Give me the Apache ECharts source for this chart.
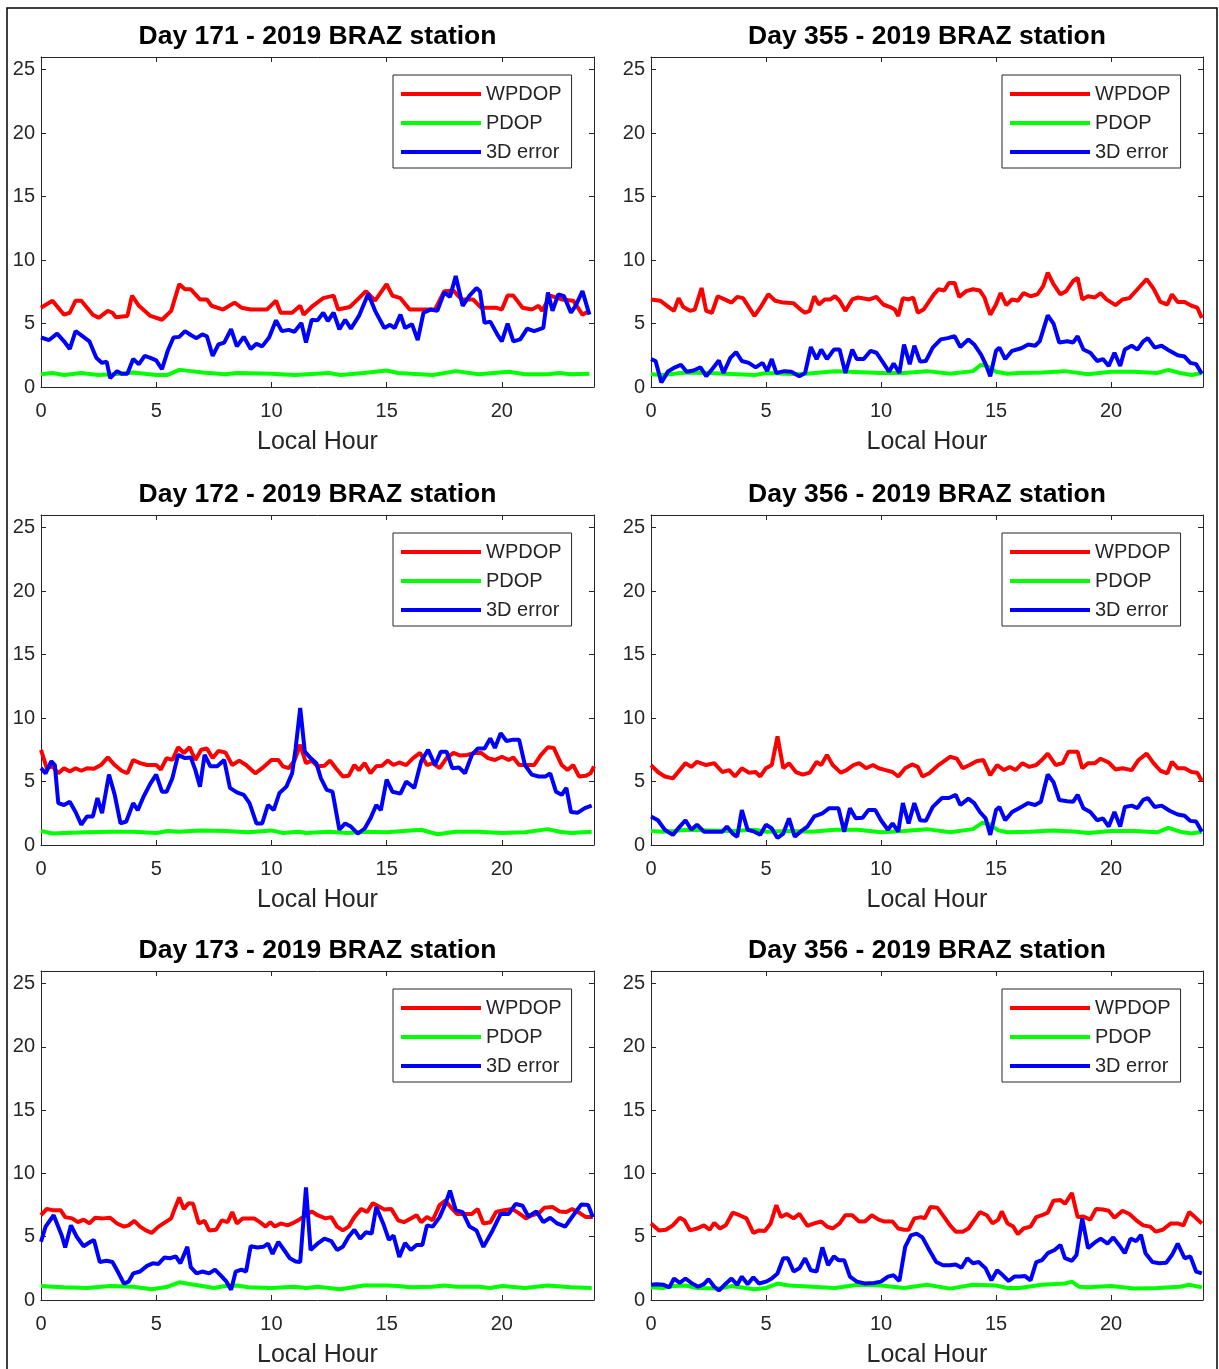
<!DOCTYPE html>
<html>
<head>
<meta charset="utf-8">
<title>BRAZ station WPDOP / PDOP / 3D error</title>
<script src="https://cdn.jsdelivr.net/npm/echarts@6/dist/echarts.min.js"></script>
<style>
  html, body { margin: 0; padding: 0; background: #fff; }
  #chart { width: 1219px; height: 1369px; }
</style>
</head>
<body>
<div id="chart"></div>
<script>
// ---- Panel titles (row by row, left to right) ----
const panelTitles = [
  'Day 171 - 2019 BRAZ station', 'Day 355 - 2019 BRAZ station',
  'Day 172 - 2019 BRAZ station', 'Day 356 - 2019 BRAZ station',
  'Day 173 - 2019 BRAZ station', 'Day 356 - 2019 BRAZ station'
];
const seriesNames = ['WPDOP', 'PDOP', '3D error'];
const xTicks = [0, 5, 10, 15, 20];
const yTicks = [0, 5, 10, 15, 20, 25];

// ---- Day 171 : [local hour, value] ----
const wpdop171 = [[0,6.25],[0.5,6.8],[1,5.7],[1.25,5.85],[1.5,6.8],[1.75,6.8],[2.25,5.7],[2.5,5.45],[2.9,6],[3.1,5.85],[3.25,5.5],[3.75,5.6],[3.95,7.2],[4.25,6.4],[4.75,5.6],[5.25,5.3],[5.65,6],[6,8.1],[6.25,7.7],[6.5,7.7],[6.9,6.9],[7.2,6.9],[7.4,6.4],[7.9,6.1],[8.4,6.65],[8.7,6.25],[9.1,6.1],[9.8,6.1],[10.2,6.8],[10.4,5.85],[10.9,5.85],[11.25,6.4],[11.4,5.7],[11.8,6.4],[12.25,7],[12.7,7.2],[12.9,6.1],[13.4,6.3],[13.8,7],[14.1,7.55],[14.5,6.8],[15,8.1],[15.25,7.2],[15.6,7],[16,6.1],[16.6,6.1],[17.1,6.1],[17.5,7.55],[17.9,7.6],[18.25,6.9],[18.75,6.9],[19.1,6.25],[19.75,6.25],[20,6.1],[20.25,7.2],[20.5,7.2],[20.9,6.25],[21.3,6.1],[21.6,6.4],[21.75,6],[22.1,7.2],[22.6,6.9],[23.1,6.8],[23.5,5.7],[23.8,6]];
const pdop171 = [[0,1],[0.5,1.1],[1,0.95],[1.75,1.1],[2.5,0.95],[3.5,1.05],[4,1.15],[5,0.95],[5.5,0.95],[6,1.35],[6.5,1.25],[7,1.15],[8,1],[8.5,1.1],[10,1.05],[11,0.95],[12.5,1.1],[13,0.95],[14,1.1],[15,1.3],[15.5,1.1],[17,0.95],[18,1.25],[19,1],[20.3,1.2],[21,1],[22,1],[22.5,1.1],[23,1],[23.8,1.05]];
const err171 = [[0,3.9],[0.35,3.7],[0.7,4.2],[1,3.6],[1.25,3],[1.5,4.4],[1.8,4],[2.1,3.6],[2.4,2.3],[2.65,1.9],[2.85,2],[3,0.7],[3.3,1.25],[3.5,1.05],[3.75,1.05],[4,2.2],[4.25,1.8],[4.5,2.45],[4.75,2.3],[5,2.1],[5.25,1.4],[5.5,2.85],[5.75,3.9],[6,3.95],[6.25,4.4],[6.5,4.1],[6.75,3.85],[7,4.15],[7.2,4],[7.45,2.45],[7.7,3.35],[7.95,3.5],[8.25,4.55],[8.5,3.2],[8.8,3.95],[9.1,3],[9.35,3.4],[9.6,3.2],[9.9,3.9],[10.2,5.25],[10.45,4.4],[10.75,4.5],[11,4.35],[11.3,5.05],[11.5,3.5],[11.75,5.3],[12,5.25],[12.25,5.85],[12.45,5.2],[12.7,5.85],[12.95,4.55],[13.2,5.3],[13.45,4.6],[13.8,5.6],[14.2,7.35],[14.5,6],[14.9,4.65],[15.15,4.9],[15.35,4.65],[15.6,5.7],[15.8,4.65],[16.1,4.95],[16.35,3.7],[16.6,5.85],[16.9,6.1],[17.2,6],[17.5,7.45],[17.75,7.1],[18,8.75],[18.3,6.4],[18.6,7.2],[18.9,7.8],[19.05,7.55],[19.25,5.05],[19.5,5.15],[19.8,4.15],[20,3.6],[20.25,5],[20.5,3.6],[20.8,3.75],[21.1,4.6],[21.4,4.4],[21.8,4.65],[22,7.45],[22.2,6],[22.45,7.3],[22.7,7.15],[23,5.85],[23.2,6.4],[23.5,7.55],[23.8,5.7]];

// ---- Day 355 ----
const wpdop355 = [[0,6.9],[0.4,6.8],[0.8,6.25],[1,6],[1.2,7],[1.4,6.3],[1.7,6],[1.9,6.1],[2.2,7.8],[2.4,6],[2.65,5.85],[2.9,7.15],[3.2,6.9],[3.5,6.65],[3.75,7.1],[4,7],[4.5,5.6],[4.75,6.25],[5.1,7.3],[5.4,6.8],[5.75,6.65],[6.2,6.6],[6.5,6.1],[6.7,5.85],[6.9,6],[7.1,7.15],[7.3,6.5],[7.55,6.9],[7.8,6.9],[8,7.15],[8.2,6.8],[8.45,6],[8.75,6.9],[9,7.05],[9.5,6.9],[9.8,7.1],[10.1,6.5],[10.4,6.3],[10.6,6.1],[10.75,5.6],[10.95,7],[11.2,6.9],[11.4,7.05],[11.6,5.85],[11.85,6.1],[12.3,7.3],[12.5,7.7],[12.75,7.6],[12.95,8.2],[13.2,8.2],[13.4,7.1],[13.7,7.55],[14,7.7],[14.3,7.6],[14.5,7.05],[14.75,5.7],[15,6.5],[15.2,7.4],[15.45,6.45],[15.7,6.9],[15.95,6.8],[16.2,7.4],[16.5,7.15],[16.8,7.3],[17.05,7.95],[17.25,9],[17.5,8.1],[17.8,7.3],[18.05,7.55],[18.35,8.35],[18.55,8.6],[18.75,6.9],[19,7.15],[19.3,7.05],[19.55,7.4],[19.8,6.9],[20.2,6.45],[20.5,6.9],[20.8,7],[21.2,7.8],[21.55,8.5],[21.85,7.75],[22.15,6.7],[22.45,6.5],[22.65,7.3],[22.9,6.7],[23.2,6.7],[23.5,6.4],[23.75,6.25],[23.95,5.45]];
const pdop355 = [[0,1],[0.5,0.95],[1.5,1.15],[2.5,1.1],[4.5,0.95],[5,1.1],[6.5,1],[8,1.25],[10,1.1],[11,1.1],[12,1.25],[13,1.05],[14,1.25],[14.35,1.75],[14.6,1.65],[15,1.2],[15.5,1.05],[16,1.1],[17,1.15],[18,1.25],[19,1],[20,1.2],[21,1.2],[22,1.1],[22.5,1.35],[23,1.1],[23.5,0.95],[23.95,1.1]];
const err355 = [[0,2.2],[0.2,2.05],[0.45,0.35],[0.75,1.25],[1.05,1.55],[1.3,1.75],[1.55,1.2],[1.85,1.3],[2.15,1.55],[2.4,0.85],[2.7,1.5],[2.95,2.1],[3.15,1.1],[3.45,2.3],[3.7,2.75],[3.95,2.05],[4.25,1.9],[4.55,1.55],[4.85,1.9],[5.05,1.25],[5.25,2.2],[5.45,1.1],[5.8,1.25],[6.1,1.2],[6.45,0.85],[6.7,1.1],[6.95,3.15],[7.2,2.2],[7.4,2.95],[7.65,2.2],[7.95,2.95],[8.2,2.95],[8.45,1.1],[8.75,2.95],[8.95,2.2],[9.25,2.2],[9.55,2.85],[9.8,2.7],[10.1,1.9],[10.35,1.2],[10.55,1.85],[10.8,1.1],[11,3.35],[11.25,1.8],[11.45,3.25],[11.7,2],[11.95,2.05],[12.25,3.1],[12.6,3.75],[12.9,3.85],[13.2,4],[13.45,3.15],[13.8,3.75],[14.05,3.35],[14.35,2.55],[14.55,1.8],[14.75,0.85],[15,2.85],[15.15,3.1],[15.4,2.2],[15.7,2.85],[16.1,3.05],[16.4,3.35],[16.7,3.25],[16.9,3.6],[17.25,5.65],[17.5,5],[17.75,3.5],[18.1,3.6],[18.35,3.5],[18.55,4],[18.8,2.95],[19.1,2.7],[19.4,2.05],[19.65,2.2],[19.9,1.65],[20.15,2.7],[20.4,1.65],[20.6,2.95],[20.9,3.25],[21.15,2.95],[21.4,3.6],[21.6,3.85],[21.9,3.1],[22.2,3.25],[22.55,2.85],[22.9,2.5],[23.2,2.4],[23.45,1.9],[23.7,1.8],[23.95,1.05]];

// ---- Day 172 ----
const wpdop172 = [[0,7.5],[0.25,6.05],[0.5,6.2],[0.75,5.65],[1,6.05],[1.25,5.8],[1.5,6.05],[1.75,5.85],[2,6.05],[2.3,6],[2.6,6.3],[2.9,6.9],[3.2,6.3],[3.5,5.85],[3.75,5.65],[4,6.7],[4.3,6.45],[4.6,6.3],[5,6.3],[5.2,5.95],[5.45,6.85],[5.7,6.7],[5.95,7.7],[6.2,7.25],[6.45,7.7],[6.7,6.7],[6.95,7.5],[7.2,7.6],[7.45,6.85],[7.7,7.4],[8,7.3],[8.3,6.3],[8.6,6.65],[8.9,6.3],[9.3,5.65],[9.6,6.05],[10,6.7],[10.3,6.7],[10.5,6.2],[10.75,6.05],[11,6.65],[11.25,7.9],[11.5,6.45],[11.75,6.65],[12,6.2],[12.3,6.25],[12.55,6.65],[12.8,6.05],[13.1,5.4],[13.35,5.45],[13.6,6.3],[13.8,5.9],[14.05,6.45],[14.3,5.65],[14.55,6.2],[14.8,6.25],[15.05,6.65],[15.3,6.3],[15.55,6.5],[15.85,6.3],[16.15,6.85],[16.45,7.25],[16.75,6.3],[17,6.45],[17.3,6.05],[17.6,6.85],[17.9,7.25],[18.2,7.05],[18.5,7.1],[18.8,7.25],[19.1,7.25],[19.4,6.85],[19.7,6.7],[20,6.95],[20.3,6.7],[20.5,6.9],[20.75,6.3],[21.1,6.3],[21.4,6.3],[21.7,7.1],[22,7.7],[22.25,7.65],[22.6,6.3],[22.85,5.9],[23.1,6.3],[23.35,5.4],[23.65,5.45],[23.85,5.65],[24,6.2]];
const pdop172 = [[0,1.1],[0.5,0.9],[1,0.95],[2,1],[3,1.05],[4,1.05],[5,0.95],[5.5,1.1],[6,1.05],[6.5,1.1],[7,1.15],[8,1.1],[9,1],[10,1.15],[10.5,0.95],[11.2,1.05],[11.5,0.95],[12.5,1.05],[13.3,0.95],[14,1.05],[15,1],[16.5,1.2],[17.2,0.85],[18,1.05],[19,1.05],[20,0.95],[21,1],[22,1.25],[22.5,1.05],[23,0.95],[23.9,1.05]];
const err172 = [[0,6.05],[0.2,5.65],[0.45,6.6],[0.6,6.3],[0.75,3.3],[1,3.15],[1.25,3.4],[1.5,2.6],[1.75,1.6],[2,2.25],[2.25,2.25],[2.45,3.7],[2.65,2.5],[2.95,5.55],[3.2,3.95],[3.45,1.7],[3.7,1.85],[4,3.3],[4.2,2.75],[4.45,3.8],[4.75,4.85],[5,5.55],[5.25,4.2],[5.45,4.2],[5.7,5.25],[5.95,7.1],[6.25,6.85],[6.5,6.9],[6.7,5.9],[6.9,4.6],[7.1,7.1],[7.35,6.2],[7.65,6.2],[7.95,6.7],[8.2,4.5],[8.5,4.15],[8.8,3.95],[9.05,3.3],[9.35,1.7],[9.6,1.7],[9.85,3.15],[10.1,2.75],[10.35,4.1],[10.65,4.6],[10.9,5.65],[11.05,7.6],[11.25,10.8],[11.45,7.35],[11.7,6.85],[11.95,6.45],[12.15,5.25],[12.4,4.35],[12.65,4.2],[12.95,1.2],[13.2,1.7],[13.45,1.45],[13.75,0.9],[14.05,1.3],[14.3,2.1],[14.55,3.15],[14.75,2.75],[15,5.15],[15.25,4.2],[15.6,4.05],[15.85,5],[16.2,4.5],[16.5,6.6],[16.8,7.5],[17.1,6.3],[17.35,7.35],[17.6,7.35],[17.85,6.05],[18.15,6.1],[18.4,5.65],[18.7,7.1],[18.95,7.6],[19.25,7.6],[19.5,8.4],[19.7,7.65],[19.95,8.8],[20.2,8.2],[20.5,8.3],[20.75,8.3],[21,6.3],[21.3,5.55],[21.6,5.4],[21.9,5.4],[22.1,5.65],[22.35,4.2],[22.6,3.95],[22.8,4.5],[23,2.6],[23.3,2.55],[23.6,2.9],[23.9,3.1]];

// ---- Day 356 ----
const wpdop356 = [[0,6.3],[0.3,5.75],[0.6,5.4],[0.95,5.25],[1.25,5.9],[1.5,6.45],[1.75,6.15],[2,6.55],[2.4,6.3],[2.75,6.45],[3.1,5.75],[3.4,5.9],[3.65,5.4],[3.95,6.05],[4.25,5.7],[4.55,5.75],[4.75,5.4],[5,6.05],[5.25,6.3],[5.5,8.55],[5.75,6.05],[6,6.45],[6.3,5.75],[6.6,5.55],[6.9,5.7],[7.2,6.55],[7.4,6.3],[7.65,7.1],[7.9,6.3],[8.25,5.7],[8.5,5.9],[8.8,6.3],[9.05,6.45],[9.35,6.05],[9.65,6.3],[9.9,6.05],[10.2,5.9],[10.5,5.75],[10.75,5.4],[11.05,6.05],[11.35,6.35],[11.6,6.15],[11.8,5.4],[12.1,5.65],[12.5,6.3],[12.7,6.55],[13,6.95],[13.3,6.8],[13.55,6.05],[13.85,6.3],[14.15,6.6],[14.45,6.7],[14.75,5.5],[15.05,6.3],[15.35,5.9],[15.6,6.15],[15.85,5.9],[16.15,6.45],[16.45,6.15],[16.75,6.3],[17.05,6.8],[17.25,7.2],[17.6,6.3],[17.9,6.45],[18.15,7.35],[18.55,7.35],[18.75,6.05],[19,6.45],[19.3,6.45],[19.55,6.8],[19.9,6.5],[20.2,5.95],[20.5,6.05],[20.9,5.9],[21.2,6.7],[21.55,7.2],[21.85,6.45],[22.15,5.85],[22.45,5.65],[22.65,6.55],[22.9,6.05],[23.2,6.05],[23.5,5.75],[23.75,5.7],[23.95,5.05]];
const pdop356 = [[0,1.1],[0.5,1.05],[1,1.1],[1.5,1.2],[2.5,1.15],[3.5,1.1],[4.5,1.2],[5,1.05],[6,1.1],[7,1.05],[8,1.2],[9,1.2],[10,1],[11,1.1],[12,1.25],[13,1],[14,1.25],[14.4,1.75],[14.7,1.65],[15.1,1.15],[15.5,1],[16.5,1.05],[17.5,1.15],[18.5,1.05],[19,0.95],[20,1.1],[21,1.1],[22,1],[22.5,1.35],[23,1.05],[23.5,0.9],[23.95,1.05]];
const err356 = [[0,2.25],[0.3,1.95],[0.6,1.2],[0.95,0.8],[1.25,1.45],[1.5,1.95],[1.75,1.2],[2,1.6],[2.3,1.05],[2.7,1.05],[3.1,1.05],[3.3,1.45],[3.55,0.9],[3.75,0.65],[3.95,2.75],[4.2,1.2],[4.5,1.05],[4.75,0.8],[5,1.6],[5.25,1.3],[5.5,0.55],[5.75,0.9],[6,2.1],[6.25,0.65],[6.5,1.05],[6.8,1.45],[7.1,2.25],[7.45,2.5],[7.75,2.9],[8.15,2.9],[8.4,1.05],[8.65,2.9],[8.9,2.1],[9.2,2.15],[9.45,2.75],[9.75,2.75],[10,1.95],[10.3,1.2],[10.5,1.7],[10.75,1.05],[10.95,3.3],[11.2,1.7],[11.45,3.3],[11.7,1.95],[11.95,1.9],[12.25,3],[12.65,3.7],[12.95,3.7],[13.25,3.95],[13.45,3.15],[13.8,3.65],[14.05,3.3],[14.3,2.6],[14.55,2.1],[14.75,0.8],[15,2.75],[15.15,3],[15.4,1.95],[15.7,2.6],[16.1,3],[16.4,3.3],[16.7,3.15],[16.95,3.4],[17.25,5.55],[17.5,4.95],[17.75,3.55],[18.1,3.45],[18.35,3.4],[18.55,3.95],[18.8,2.9],[19.1,2.6],[19.4,1.95],[19.65,2.1],[19.9,1.45],[20.15,2.6],[20.4,1.45],[20.6,3],[20.9,3.1],[21.15,2.9],[21.4,3.55],[21.6,3.7],[21.9,3],[22.2,3.1],[22.55,2.7],[22.9,2.4],[23.2,2.3],[23.45,1.9],[23.7,1.85],[23.95,1.05]];

// ---- Day 173 ----
const wpdop173 = [[0,6.7],[0.25,7.2],[0.5,7.1],[0.85,7.1],[1.05,6.55],[1.35,6.45],[1.6,6.15],[1.85,6.35],[2.1,6.05],[2.35,6.5],[2.7,6.45],[3,6.5],[3.3,6.05],[3.6,5.8],[3.8,5.9],[4.05,6.25],[4.3,5.8],[4.55,5.5],[4.8,5.3],[5.1,5.8],[5.4,6.15],[5.65,6.45],[5.8,7.2],[6,8.1],[6.2,7.2],[6.4,7.65],[6.6,7.6],[6.85,6.05],[7.1,6.25],[7.3,5.5],[7.6,5.55],[7.85,6.3],[8.1,6.15],[8.3,6.95],[8.5,6.05],[8.75,6.45],[9,6.45],[9.25,6.45],[9.5,6.15],[9.75,5.8],[9.95,6.15],[10.15,5.8],[10.4,6.05],[10.7,5.9],[10.9,6.05],[11.2,6.35],[11.5,6.7],[11.75,7],[12,6.7],[12.35,6.45],[12.6,6.55],[12.85,5.8],[13.1,5.5],[13.35,5.8],[13.6,6.55],[13.9,7.2],[14.15,6.95],[14.4,7.65],[14.65,7.4],[14.9,7.15],[15.2,7.2],[15.5,6.3],[15.75,6.15],[16.05,6.45],[16.3,6.7],[16.5,6.15],[16.75,6.55],[17,6.3],[17.3,7.5],[17.55,7.85],[17.8,7.3],[18.05,6.8],[18.4,6.8],[18.7,6.8],[18.95,7.2],[19.2,6.05],[19.5,6.15],[19.75,6.95],[20.1,7.1],[20.45,7.2],[20.75,6.85],[21.05,6.45],[21.3,6.7],[21.6,6.85],[21.85,7.3],[22.2,7.35],[22.5,7],[22.8,6.95],[23.05,7.2],[23.4,6.85],[23.65,6.55],[23.95,6.55]];
const pdop173 = [[0,1.1],[0.5,1.05],[1,1],[2,0.95],[3,1.1],[4,1.05],[4.8,0.85],[5.5,1.05],[6,1.4],[6.5,1.25],[7,1.1],[7.5,0.95],[8,1.1],[8.5,1.15],[9,1],[10,0.95],[11,1.05],[11.5,0.95],[12,1.05],[13,0.85],[14,1.15],[15,1.15],[15.5,1.1],[16,1],[17,1.05],[17.5,1.15],[18,1.05],[19,1.05],[19.5,0.95],[20,1.1],[21,0.95],[22,1.15],[23,1],[23.9,0.95]];
const err173 = [[0,4.6],[0.2,5.8],[0.55,6.7],[0.9,5.1],[1.05,4.15],[1.3,5.9],[1.55,5],[1.85,4.25],[2.15,4.6],[2.3,4.75],[2.55,3],[2.85,3.1],[3.1,3],[3.3,2.35],[3.6,1.3],[3.8,1.45],[4,2.1],[4.3,2.25],[4.6,2.7],[4.85,2.9],[5.1,2.85],[5.35,3.35],[5.6,3.3],[5.85,3.45],[6.05,2.9],[6.35,4.2],[6.5,2.6],[6.75,2.1],[7,2.25],[7.3,2.1],[7.55,2.4],[7.8,1.95],[8.05,1.45],[8.25,0.8],[8.45,2.25],[8.7,2.4],[8.9,2.25],[9.1,4.25],[9.4,4.15],[9.65,4.2],[9.85,4.45],[10.05,3.65],[10.3,4.6],[10.55,3.95],[10.8,3.3],[11.05,3.05],[11.25,3],[11.5,8.9],[11.7,3.95],[12,4.45],[12.3,4.85],[12.6,4.65],[12.85,3.95],[13.1,4.2],[13.35,5],[13.6,5.55],[13.85,4.85],[14.1,5.35],[14.35,5.25],[14.55,7.35],[14.85,6.05],[15.1,4.75],[15.3,5.1],[15.55,3.4],[15.8,4.5],[16.05,3.95],[16.3,4.35],[16.55,4.35],[16.75,5.9],[17,5.8],[17.3,6.55],[17.55,7.6],[17.75,8.65],[18,7.1],[18.3,6.95],[18.6,5.8],[18.9,5.5],[19.2,4.2],[19.6,5.5],[19.95,6.8],[20.3,6.8],[20.6,7.6],[20.9,7.45],[21.15,6.6],[21.5,7],[21.8,6.15],[22.1,6.5],[22.4,6.05],[22.75,5.8],[23.1,6.7],[23.45,7.55],[23.75,7.5],[23.95,6.55]];

// ---- Day 356 (second panel) ----
const wpdop356b = [[0,6.05],[0.35,5.5],[0.65,5.55],[0.95,5.9],[1.25,6.5],[1.45,6.3],[1.7,5.5],[2,5.65],[2.3,5.9],[2.55,5.55],[2.75,6.1],[3,5.65],[3.25,5.9],[3.55,6.9],[3.85,6.7],[4.15,6.45],[4.45,5.3],[4.7,5.5],[4.95,5.45],[5.2,6.05],[5.45,7.5],[5.65,6.55],[5.9,6.8],[6.2,6.45],[6.45,6.8],[6.8,5.85],[7.1,6.05],[7.4,6.2],[7.65,5.8],[7.9,5.65],[8.2,6.05],[8.45,6.7],[8.75,6.7],[9.05,6.2],[9.3,6.2],[9.6,6.7],[9.9,6.35],[10.15,6.2],[10.5,6.2],[10.75,5.65],[11,5.55],[11.2,5.55],[11.45,6.45],[11.75,6.55],[11.9,6.45],[12.15,7.35],[12.45,7.3],[12.75,6.55],[13,5.9],[13.25,5.4],[13.55,5.4],[13.8,5.65],[14.05,6.3],[14.3,6.95],[14.6,6.7],[14.85,6.05],[15.1,6.35],[15.25,7],[15.5,6.05],[15.75,5.8],[15.95,5.2],[16.2,5.65],[16.5,5.8],[16.75,6.55],[17,6.7],[17.25,6.9],[17.5,7.85],[17.8,7.9],[18,7.6],[18.3,8.45],[18.55,6.55],[18.8,6.6],[19.1,6.35],[19.35,7.2],[19.65,7.15],[19.9,7.05],[20.15,6.5],[20.5,7.05],[20.8,6.8],[21.1,6.3],[21.4,5.9],[21.7,5.8],[21.95,5.4],[22.25,5.55],[22.6,6.05],[22.9,6.05],[23.15,5.9],[23.4,6.95],[23.65,6.55],[23.95,6.05]];
const pdop356b = [[0,1],[0.5,0.95],[1,1.1],[1.5,1.15],[2,0.95],[3,0.9],[3.5,1.1],[4.5,0.85],[5,0.95],[5.5,1.3],[6,1.15],[7,1.05],[8,0.95],[9,1.2],[10,1.15],[11,0.95],[12,1.2],[13,0.9],[14,1.2],[15,1.15],[15.5,0.95],[16,0.95],[17,1.2],[18,1.3],[18.3,1.45],[18.6,1.05],[19,1],[20,1.1],[21,0.9],[22,0.95],[23,1.05],[23.4,1.2],[23.95,1]];
const err356b = [[0,1.2],[0.25,1.25],[0.55,1.2],[0.8,1],[1,1.7],[1.25,1.35],[1.5,1.7],[1.75,1.35],[2.05,1.05],[2.3,1.25],[2.5,1.65],[2.75,1.05],[2.95,0.75],[3.2,1.2],[3.5,1.7],[3.75,1.2],[3.95,1.85],[4.2,1.25],[4.45,1.8],[4.7,1.3],[5,1.45],[5.25,1.7],[5.5,2.1],[5.75,3.3],[5.95,3.3],[6.2,2.25],[6.45,2.5],[6.7,3.3],[6.95,2.35],[7.2,2.25],[7.45,4.15],[7.7,2.75],[7.95,3.45],[8.15,3.15],[8.4,3.15],[8.65,1.85],[8.95,1.45],[9.3,1.3],[9.7,1.35],[10,1.45],[10.3,1.85],[10.55,1.95],[10.8,1.5],[11.05,4.2],[11.3,5.1],[11.55,5.25],[11.8,4.95],[12.1,3.95],[12.4,3],[12.7,2.75],[13,2.75],[13.25,2.8],[13.5,2.55],[13.75,3.3],[14,2.9],[14.25,3],[14.55,2.5],[14.8,1.55],[15.05,2.35],[15.3,1.95],[15.55,1.5],[15.8,1.85],[16.05,1.85],[16.25,1.9],[16.5,1.55],[16.75,3],[17,3.15],[17.25,3.7],[17.55,3.95],[17.8,4.35],[18,3.3],[18.3,3.1],[18.5,3.55],[18.75,6.45],[19,4.1],[19.3,4.55],[19.55,4.85],[19.85,4.45],[20.1,4.95],[20.35,4.35],[20.6,3.7],[20.85,4.85],[21.1,4.65],[21.3,5.15],[21.5,3.7],[21.8,3],[22.1,2.9],[22.4,2.95],[22.65,3.55],[22.9,4.45],[23.2,3.3],[23.45,3.45],[23.7,2.25],[23.95,2.1]];

// One entry per panel, in the same order as panelTitles
const panelSeries = [
  [wpdop171, pdop171, err171],
  [wpdop355, pdop355, err355],
  [wpdop172, pdop172, err172],
  [wpdop356, pdop356, err356],
  [wpdop173, pdop173, err173],
  [wpdop356b, pdop356b, err356b]
];

// ---- Layout ----
const seriesColors = ['#ff0000', '#00ff00', '#0000ff'];
const axisColor = '#262626';
const colLeft = [41, 651];
const colWidth = [553, 552];
const rowTop = [57, 515, 971];
const plotHeight = 330;
const fontFamily = '"Liberation Sans", Arial, Helvetica, sans-serif';

// only the round tick values get a label (the axis ends at 24 / 26)
const tickSet = (list) => (v) => (list.indexOf(v) >= 0 ? String(v) : '');

const grids = [], xAxes = [], yAxes = [], series = [], titles = [], legends = [];

panelTitles.forEach((name, i) => {
  const col = i % 2, row = Math.floor(i / 2);
  const left = colLeft[col], width = colWidth[col], top = rowTop[row];
  grids.push({ left, top, width, height: plotHeight, containLabel: false });

  const baseX = {
    type: 'value', min: 0, max: 24, interval: 5, gridIndex: i,
    axisLine: { show: true, onZero: false, lineStyle: { color: axisColor, width: 1 } },
    axisTick: { show: true, inside: true, length: 5, lineStyle: { color: axisColor } },
    splitLine: { show: false }
  };
  const baseY = {
    type: 'value', min: 0, max: 26, interval: 5, gridIndex: i,
    axisLine: { show: true, onZero: false, lineStyle: { color: axisColor, width: 1 } },
    axisTick: { show: true, inside: true, length: 5, lineStyle: { color: axisColor } },
    splitLine: { show: false }
  };
  // bottom axis with labels and name, plus a mirrored top axis closing the box
  xAxes.push(Object.assign({}, baseX, {
    position: 'bottom',
    name: 'Local Hour', nameLocation: 'middle', nameGap: 43,
    nameTextStyle: { fontFamily, fontSize: 25, color: axisColor },
    axisLabel: { fontFamily, fontSize: 20, color: axisColor, margin: 14, formatter: tickSet(xTicks) }
  }));
  xAxes.push(Object.assign({}, baseX, { position: 'top', axisLabel: { show: false } }));
  yAxes.push(Object.assign({}, baseY, {
    position: 'left',
    axisLabel: { fontFamily, fontSize: 20, color: axisColor, margin: 6, formatter: tickSet(yTicks) }
  }));
  yAxes.push(Object.assign({}, baseY, { position: 'right', axisLabel: { show: false } }));

  panelSeries[i].forEach((data, k) => {
    series.push({
      name: seriesNames[k], type: 'line', data,
      xAxisIndex: 2 * i, yAxisIndex: 2 * i,
      symbol: 'none', silent: true, z: 3 + k,
      lineStyle: { color: seriesColors[k], width: 4 },
      itemStyle: { color: seriesColors[k] }
    });
  });

  titles.push({
    text: name, left: left + width / 2, top: top - 34, textAlign: 'center', padding: 0,
    textStyle: { fontFamily, fontSize: 26.5, fontWeight: 'bold', color: '#000', lineHeight: 28 }
  });

  legends.push({
    data: seriesNames, orient: 'vertical',
    left: left + width - 21 - 180, top: top + 18,
    padding: [9, 10, 6, 8], itemGap: 9,
    itemWidth: 80, itemHeight: 4, icon: 'rect',
    backgroundColor: '#fff', borderColor: axisColor, borderWidth: 1,
    selectedMode: false,
    textStyle: { fontFamily, fontSize: 20, color: axisColor, lineHeight: 20 }
  });
});

const chart = echarts.init(document.getElementById('chart'), null, { renderer: 'canvas' });
chart.setOption({
  backgroundColor: '#fff',
  animation: false,
  title: titles,
  legend: legends,
  grid: grids,
  xAxis: xAxes,
  yAxis: yAxes,
  series,
  graphic: [{
    type: 'rect', silent: true, z: -1,
    shape: { x: 7, y: 8, width: 1210, height: 1400 },
    style: { fill: null, stroke: '#000', lineWidth: 1.5 }
  }]
});
</script>
</body>
</html>
